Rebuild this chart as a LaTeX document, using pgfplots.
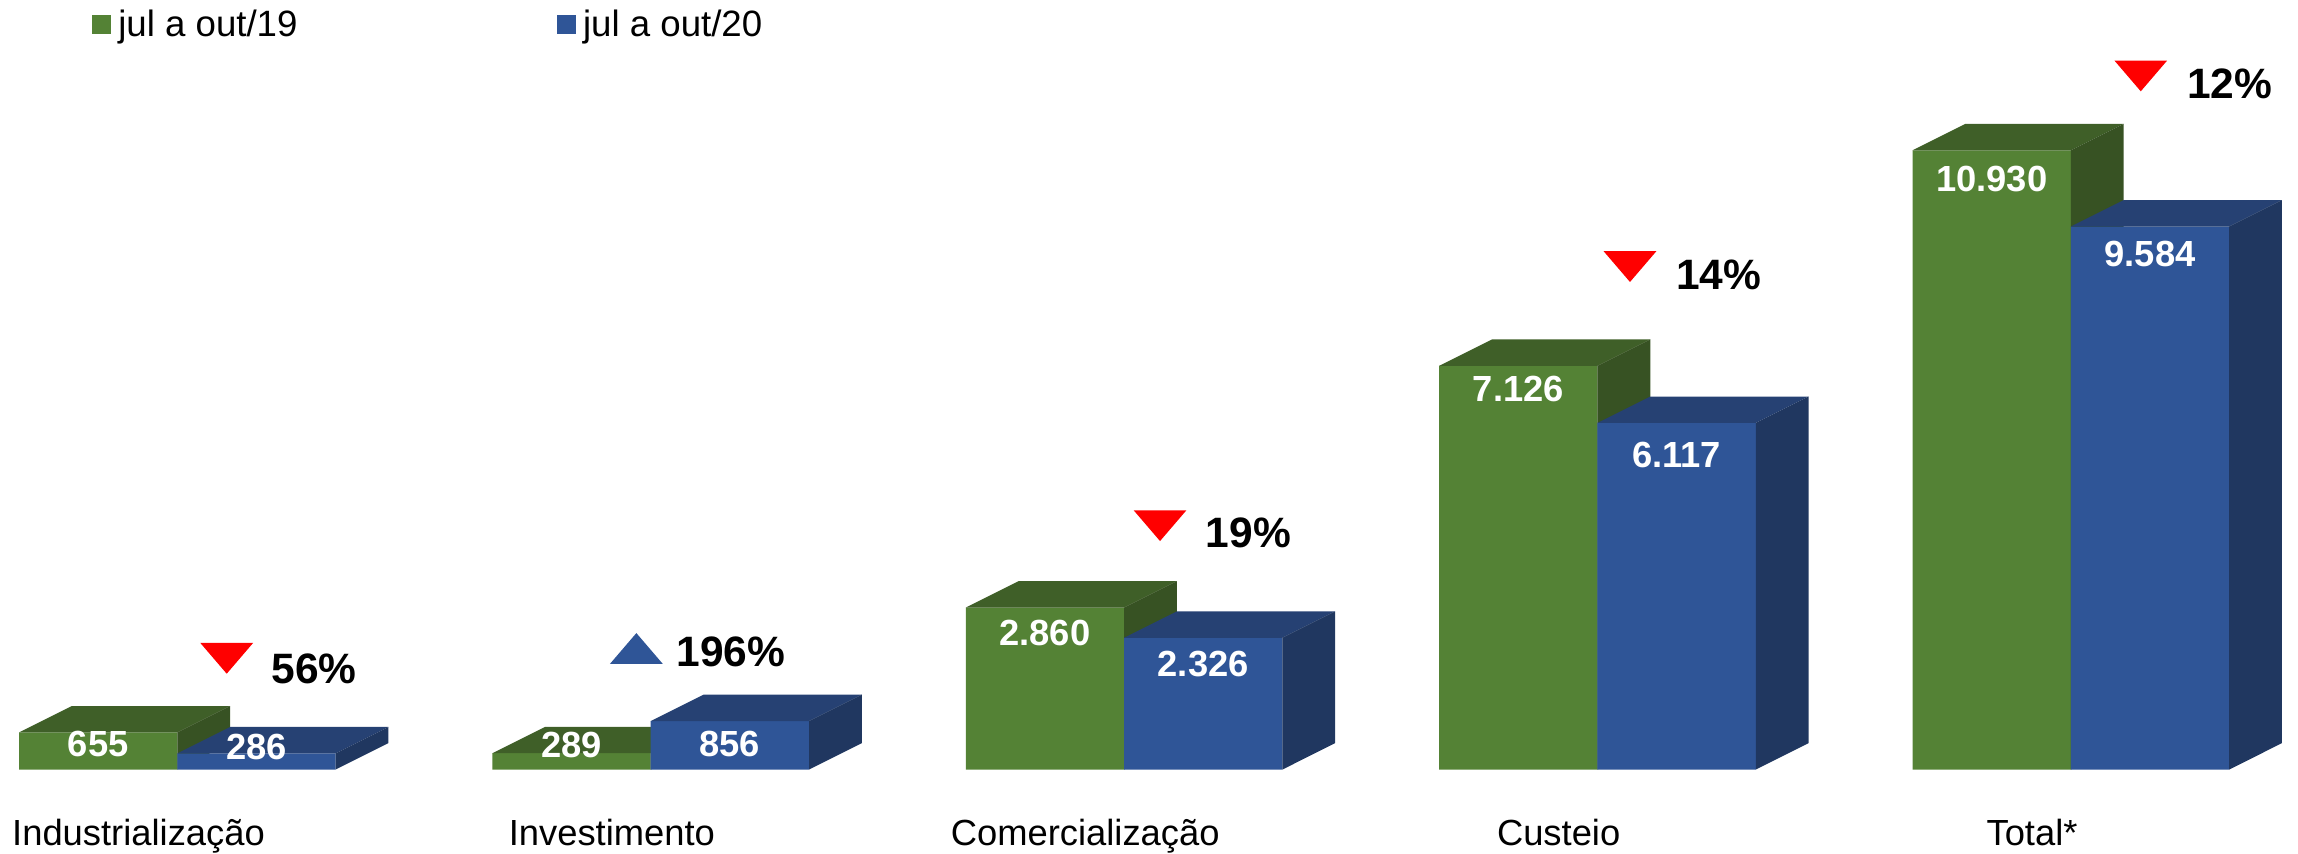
\documentclass[border=0pt]{standalone}
\usepackage{fontspec}
\setmainfont{Liberation Sans}
\usepackage{pgfplots}
\pgfplotsset{compat=1.18}
\definecolor{gfront}{RGB}{84,130,53}
\definecolor{gtop}{RGB}{63,95,40}
\definecolor{gside}{RGB}{55,82,35}
\definecolor{bfront}{RGB}{47,85,151}
\definecolor{btop}{RGB}{38,65,115}
\definecolor{bside}{RGB}{32,55,96}
\pgfplotsset{sqlegend/.style={legend image code/.code={\fill[##1] (0pt,0.9pt) rectangle (6.6pt,7.5pt);}}}
\pgfdeclareplotmark{tridown}{\pgfpathmoveto{\pgfpoint{-9pt}{5.25pt}}\pgfpathlineto{\pgfpoint{9pt}{5.25pt}}\pgfpathlineto{\pgfpoint{0pt}{-5.25pt}}\pgfpathclose\pgfusepathqfill}
\pgfdeclareplotmark{triup}{\pgfpathmoveto{\pgfpoint{-9pt}{-5.25pt}}\pgfpathlineto{\pgfpoint{9pt}{-5.25pt}}\pgfpathlineto{\pgfpoint{0pt}{5.25pt}}\pgfpathclose\pgfusepathqfill}
\begin{document}
\begin{tikzpicture}
\begin{axis}[
  width=784pt, height=291pt, scale only axis,
  xmin=-0.374613, xmax=4.479876, ymin=-1477, ymax=13577,
  axis line style={draw=none},
  ytick=\empty,
  xtick={0,1,2,3,4},
  xticklabels={Industrialização, Investimento, Comercialização, Custeio, Total*},
  major tick length=0pt,
  xticklabel style={anchor=base, inner sep=0pt, yshift=2.7pt, xshift=-13.25pt, font=\fontsize{12.4}{15}\selectfont},
  clip=false,
  legend columns=2,
  legend style={at={(axis description cs:0.04,0.97027)}, anchor=west, draw=none, fill=none,
    inner sep=0pt, outer sep=0pt, font=\fontsize{12.5}{15}\selectfont,
    nodes={inner sep=0pt, anchor=base},
    /tikz/every odd column/.append style={column sep=2.4pt},
    /tikz/every even column/.append style={column sep=88.4pt}},
]
% ---- green series (jul a out/19)
\addplot[ybar, bar width=0.33437, bar shift=-0.167185, fill=gfront, draw=none, sqlegend]
  coordinates {(0,655) (1,289) (2,2860) (3,7126) (4,10930)};
\addlegendentry{jul a out/19}
\addplot[fill=gtop, draw=none, forget plot] coordinates {(-0.33437,655) (-0.22291,1121) (0.11146,1121) (0,655)};
\addplot[fill=gside, draw=none, forget plot] coordinates {(0,0) (0.11146,466) (0.11146,1121) (0,655)};
\addplot[fill=gtop, draw=none, forget plot] coordinates {(0.66563,289) (0.77709,755) (1.11146,755) (1,289)};
\addplot[fill=gside, draw=none, forget plot] coordinates {(1,0) (1.11146,466) (1.11146,755) (1,289)};
\addplot[fill=gtop, draw=none, forget plot] coordinates {(1.66563,2860) (1.77709,3326) (2.11146,3326) (2,2860)};
\addplot[fill=gside, draw=none, forget plot] coordinates {(2,0) (2.11146,466) (2.11146,3326) (2,2860)};
\addplot[fill=gtop, draw=none, forget plot] coordinates {(2.66563,7126) (2.77709,7592) (3.11146,7592) (3,7126)};
\addplot[fill=gside, draw=none, forget plot] coordinates {(3,0) (3.11146,466) (3.11146,7592) (3,7126)};
\addplot[fill=gtop, draw=none, forget plot] coordinates {(3.66563,10930) (3.77709,11396) (4.11146,11396) (4,10930)};
\addplot[fill=gside, draw=none, forget plot] coordinates {(4,0) (4.11146,466) (4.11146,11396) (4,10930)};
% ---- blue series (jul a out/20)
\addplot[ybar, bar width=0.33437, bar shift=0.167185, fill=bfront, draw=none, sqlegend]
  coordinates {(0,286) (1,856) (2,2326) (3,6117) (4,9584)};
\addlegendentry{jul a out/20}
\addplot[fill=btop, draw=none, forget plot] coordinates {(0,286) (0.11146,752) (0.44583,752) (0.33437,286)};
\addplot[fill=bside, draw=none, forget plot] coordinates {(0.33437,0) (0.44583,466) (0.44583,752) (0.33437,286)};
\addplot[fill=btop, draw=none, forget plot] coordinates {(1,856) (1.11146,1322) (1.44583,1322) (1.33437,856)};
\addplot[fill=bside, draw=none, forget plot] coordinates {(1.33437,0) (1.44583,466) (1.44583,1322) (1.33437,856)};
\addplot[fill=btop, draw=none, forget plot] coordinates {(2,2326) (2.11146,2792) (2.44583,2792) (2.33437,2326)};
\addplot[fill=bside, draw=none, forget plot] coordinates {(2.33437,0) (2.44583,466) (2.44583,2792) (2.33437,2326)};
\addplot[fill=btop, draw=none, forget plot] coordinates {(3,6117) (3.11146,6583) (3.44583,6583) (3.33437,6117)};
\addplot[fill=bside, draw=none, forget plot] coordinates {(3.33437,0) (3.44583,466) (3.44583,6583) (3.33437,6117)};
\addplot[fill=btop, draw=none, forget plot] coordinates {(4,9584) (4.11146,10050) (4.44583,10050) (4.33437,9584)};
\addplot[fill=bside, draw=none, forget plot] coordinates {(4.33437,0) (4.44583,466) (4.44583,10050) (4.33437,9584)};
% ---- value labels
\addplot[draw=none, forget plot, nodes near coords, point meta=explicit symbolic,
  nodes near coords style={anchor=center, inner sep=0pt, text=white, font=\bfseries\fontsize{12.4}{15}\selectfont}]
  coordinates {(-0.1672,458) [655] (0.1672,398) [286] (0.8328,437) [289] (1.1672,445) [856]
  (1.8328,2416) [2.860] (2.1672,1860) [2.326] (2.8328,6723) [7.126] (3.1672,5546) [6.117]
  (3.8328,10429) [10.930] (4.1672,9105) [9.584]};
% ---- change markers
\addplot[only marks, mark=tridown, color=red, fill=red, forget plot]
  coordinates {(0.1043,1963) (2.0759,4304) (3.0687,8877) (4.1477,12242)};
\addplot[only marks, mark=triup, color=bfront, fill=bfront, forget plot]
  coordinates {(0.9697,2137)};
\begin{scope}[every node/.style={anchor=base west, inner sep=0pt, font=\bfseries\fontsize{14.5}{17}\selectfont}]
\node at (axis cs:0.1980,1516) {56\%};
\node at (axis cs:1.0530,1811) {196\%};
\node at (axis cs:2.1717,3924) {19\%};
\node at (axis cs:3.1650,8471) {14\%};
\node at (axis cs:4.2445,11842) {12\%};
\end{scope}
\end{axis}
\end{tikzpicture}
\end{document}
